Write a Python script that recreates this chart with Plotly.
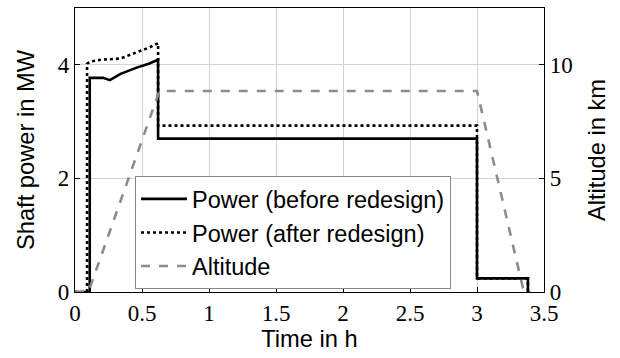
import plotly.graph_objects as go

# Data
t_before = [0, 0.11, 0.11, 0.21, 0.26, 0.34, 0.46, 0.55, 0.62, 0.62, 3.0, 3.0, 3.38, 3.38]
p_before = [0, 0, 3.77, 3.77, 3.73, 3.84, 3.95, 4.02, 4.09, 2.70, 2.70, 0.24, 0.24, 0]

t_after = [0, 0.09, 0.09, 0.12, 0.2, 0.34, 0.47, 0.55, 0.62, 0.62, 3.0, 3.0, 3.38, 3.38]
p_after = [0, 0, 4.02, 4.06, 4.09, 4.11, 4.23, 4.30, 4.38, 2.93, 2.93, 0.24, 0.24, 0]

t_alt = [0, 0.10, 0.63, 3.0, 3.35, 3.4]
alt = [0, 0, 8.85, 8.85, 0, 0]

x_ticks = [0, 0.5, 1, 1.5, 2, 2.5, 3, 3.5]
x_labels = ["0", "0.5", "1", "1.5", "2", "2.5", "3", "3.5"]
y_ticks = [0, 2, 4]
y2_ticks = [0, 5, 10]

tick_font = dict(family="Liberation Serif", size=23, color="black")
title_font = dict(family="Liberation Sans", size=23.7, color="black")

fig = go.Figure()
fig.add_trace(go.Scatter(x=t_before, y=p_before, mode="lines", name="Power (before redesign)",
                         line=dict(color="black", width=2.6)))
fig.add_trace(go.Scatter(x=t_after, y=p_after, mode="lines", name="Power (after redesign)",
                         line=dict(color="black", width=2.6, dash="dot")))
fig.add_trace(go.Scatter(x=t_alt, y=alt, mode="lines", name="Altitude", yaxis="y2",
                         line=dict(color="#8c8c8c", width=2.6, dash="dash")))

fig.update_layout(
    width=620, height=358,
    margin=dict(l=75, r=76, t=8, b=66),
    paper_bgcolor="white", plot_bgcolor="white",
    showlegend=True,
    legend=dict(x=0.128, y=0.408, xanchor="left", yanchor="top",
                bordercolor="#888888", borderwidth=1, bgcolor="white",
                font=dict(family="Liberation Sans", size=23.5, color="black"),
                tracegroupgap=0, itemwidth=46),
    xaxis=dict(range=[0, 3.5], tickvals=x_ticks, ticktext=x_labels,
               showgrid=True, gridcolor="#d3d3d3", gridwidth=1,
               showline=True, linecolor="black", linewidth=1.2, mirror=True,
               ticks="inside", ticklen=5, tickcolor="black",
               tickfont=tick_font, zeroline=False,
               title=dict(text="Time in h", font=title_font, standoff=4)),
    yaxis=dict(range=[0, 5], tickvals=y_ticks,
               showgrid=True, gridcolor="#d3d3d3", gridwidth=1,
               showline=True, linecolor="black", linewidth=1.2, mirror=True,
               ticks="inside", ticklen=5, tickcolor="black",
               tickfont=tick_font, zeroline=False,
               title=dict(text="Shaft power in MW", font=title_font, standoff=16)),
    yaxis2=dict(range=[0, 12.5], tickvals=y2_ticks, overlaying="y", side="right",
                showgrid=False, showline=True, linecolor="black", linewidth=1.2,
                ticks="inside", ticklen=5, tickcolor="black",
                tickfont=tick_font, zeroline=False,
                title=dict(text="Altitude in km", font=title_font, standoff=16)),
)

fig.write_html("out.html")
